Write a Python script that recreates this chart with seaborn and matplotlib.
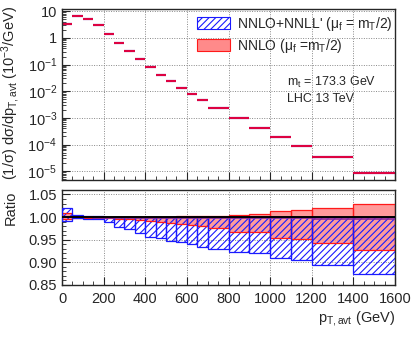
import numpy as np
import matplotlib
matplotlib.use("Agg")
import matplotlib.pyplot as plt
import matplotlib.ticker as mticker
from matplotlib.patches import Patch
import seaborn as sns
import pandas as pd

# ---------------- data ----------------
bin_edges = [0, 50, 100, 150, 200, 250, 300, 350, 400, 450, 500, 550, 600, 650, 700,
             800, 900, 1000, 1100, 1200, 1400, 1600]
xsec = [3.27, 6.5, 5.2, 3.0, 1.42, 0.67, 0.32, 0.155, 0.079, 0.042, 0.024, 0.013,
        0.0077, 0.0047, 0.00237, 9.5e-4, 4.1e-4, 1.94e-4, 8.9e-5, 3.4e-5, 8.9e-6]
nnll_hi = [1.019, 1.005, 1.002, 1.003, 1.001, 1.001, 1.001, 1.000, 1.000, 1.000, 1.000,
           1.000, 1.000, 1.000, 1.000, 1.000, 1.000, 1.000, 1.000, 1.000, 1.000]
nnll_lo = [0.992, 0.997, 0.996, 0.996, 0.989, 0.978, 0.973, 0.964, 0.956, 0.953, 0.948,
           0.944, 0.940, 0.933, 0.930, 0.922, 0.920, 0.909, 0.906, 0.895, 0.874]
nnlo_hi = [1.010, 1.003, 1.001, 1.001, 1.001, 1.001, 1.001, 1.001, 1.001, 1.001, 1.001,
           1.002, 1.002, 1.002, 1.003, 1.005, 1.006, 1.013, 1.015, 1.020, 1.030]
nnlo_lo = [0.995, 0.997, 0.999, 0.998, 0.997, 0.996, 0.995, 0.994, 0.992, 0.990, 0.988,
           0.984, 0.982, 0.980, 0.975, 0.968, 0.966, 0.953, 0.952, 0.943, 0.928]
nnlo_central = [1.000, 1.000, 1.000, 0.999, 0.999, 0.999, 0.998, 0.998, 0.998, 0.998, 0.997,
                0.997, 0.997, 0.997, 0.997, 0.997, 0.997, 0.997, 0.997, 0.996, 0.996]
top_yticks = [1e-5, 1e-4, 1e-3, 1e-2, 1e-1, 1, 10]
top_yticklabels = ['$10^{-5}$', '$10^{-4}$', '$10^{-3}$', '$10^{-2}$', '$10^{-1}$', '1', '10']
ratio_yticks = [0.85, 0.90, 0.95, 1.00, 1.05]
x_ticks = [0, 200, 400, 600, 800, 1000, 1200, 1400, 1600]
label_nnll = "NNLO+NNLL' (μ$_{\\mathrm{f}}$ = m$_{\\mathrm{T}}$/2)"
label_nnlo = "NNLO (μ$_{\\mathrm{f}}$ =m$_{\\mathrm{T}}$/2)"

# ---------------- style ----------------
sns.set_style("ticks")
plt.rcParams['font.family'] = ['Liberation Sans', 'DejaVu Sans']
plt.rcParams['mathtext.fontset'] = 'custom'
plt.rcParams['mathtext.rm'] = 'Liberation Sans'
plt.rcParams['mathtext.it'] = 'Liberation Sans:italic'
plt.rcParams['hatch.linewidth'] = 0.8
FS = 10.5

edges = np.array(bin_edges, dtype=float)
lo_e, hi_e = edges[:-1], edges[1:]
xs = np.array(xsec)
step_x = edges
def stepy(v):
    v = np.asarray(v, dtype=float)
    return np.append(v, v[-1])

BLUE = '#1a1aff'
RED = '#ff1a1a'

fig = plt.figure(figsize=(4.11, 3.38), dpi=100)
ax1 = fig.add_axes([0.151, 0.467, 0.810, 0.506])
ax2 = fig.add_axes([0.151, 0.157, 0.810, 0.281])

# ---------------- top panel ----------------
for ax in (ax1, ax2):
    ax.grid(True, which='major', ls=(0, (1, 1.5)), color='#888888', lw=0.7)
    ax.set_axisbelow(True)

ax1.fill_between(step_x, stepy(xs * np.array(nnll_lo)), stepy(xs * np.array(nnll_hi)),
                 step='post', facecolor='#8080ff', edgecolor='none', alpha=0.7)
ax1.fill_between(step_x, stepy(xs * np.array(nnlo_lo)), stepy(xs * np.array(nnlo_hi)),
                 step='post', facecolor='#ff8080', edgecolor='none', alpha=0.6)
ax1.hlines(xs * np.array(nnlo_central), lo_e, hi_e, color='#7a1a8a', lw=1.6)
ax1.hlines(xs, lo_e, hi_e, color='#e8003a', lw=1.3)
ax1.set_yscale('log')
ax1.set_ylim(4.6e-6, 12)
ax1.set_xlim(0, 1600)

ax1.yaxis.set_major_locator(mticker.FixedLocator(top_yticks))
ax1.yaxis.set_major_formatter(mticker.FixedFormatter(top_yticklabels))
minor = [m * 10.0 ** e for e in range(-6, 2) for m in range(2, 10)]
minor = [v for v in minor if 4.6e-6 <= v <= 12]
ax1.yaxis.set_minor_locator(mticker.FixedLocator(minor))
ax1.yaxis.set_minor_formatter(mticker.NullFormatter())

leg = ax1.legend(handles=[Patch(facecolor='white', edgecolor=BLUE, hatch='/////', lw=0.8, label=label_nnll),
                          Patch(facecolor='#ff8a8a', edgecolor=RED, lw=0.8, label=label_nnlo)],
                 loc='upper left', bbox_to_anchor=(0.389, 1.0), frameon=False, fontsize=10,
                 handlelength=2.35, handleheight=0.95, labelspacing=0.3, handletextpad=0.55,
                 borderaxespad=0.0)
ax1.text(0.677, 0.57, "m$_{\\mathrm{t}}$ = 173.3 GeV", transform=ax1.transAxes, fontsize=9,
         va='center', ha='left')
ax1.text(0.677, 0.475, "LHC 13 TeV", transform=ax1.transAxes, fontsize=9,
         va='center', ha='left')

# ---------------- ratio panel ----------------
ax2.fill_between(step_x, stepy(nnlo_lo), stepy(nnlo_hi), step='post',
                 facecolor='#ff8a8a', edgecolor='none', alpha=0.85, zorder=2)
ax2.fill_between(step_x, stepy(nnll_lo), stepy(nnll_hi), step='post',
                 facecolor='none', edgecolor=BLUE, hatch='/////', lw=0, zorder=3)
for i in range(len(lo_e)):
    ax2.add_patch(plt.Rectangle((lo_e[i], nnlo_lo[i]), hi_e[i] - lo_e[i], nnlo_hi[i] - nnlo_lo[i],
                                fill=False, edgecolor=RED, lw=0.9, zorder=4))
    ax2.add_patch(plt.Rectangle((lo_e[i], nnll_lo[i]), hi_e[i] - lo_e[i], nnll_hi[i] - nnll_lo[i],
                                fill=False, edgecolor=BLUE, lw=0.9, zorder=4))
ax2.hlines(nnlo_central, lo_e, hi_e, color='#8a2a9a', lw=1.2, zorder=5)
ref = pd.DataFrame({'x': [0, 1600], 'y': [1.0, 1.0]})
sns.lineplot(data=ref, x='x', y='y', ax=ax2, color='black', lw=1.4, zorder=6)
ax2.set_xlim(0, 1600)
ax2.set_ylim(0.85, 1.06)
ax2.yaxis.set_major_locator(mticker.FixedLocator(ratio_yticks))
ax2.yaxis.set_major_formatter(mticker.FixedFormatter(['%.2f' % v for v in ratio_yticks]))
ax2.yaxis.set_minor_locator(mticker.FixedLocator([round(0.85 + 0.01 * k, 2) for k in range(22)]))
ax2.set_xlabel('')
ax2.set_ylabel('')

for ax in (ax1, ax2):
    ax.xaxis.set_major_locator(mticker.FixedLocator(x_ticks))
    ax.xaxis.set_minor_locator(mticker.FixedLocator(list(range(0, 1601, 50))))
    ax.tick_params(which='both', direction='in', labelsize=FS, top=False, right=False)
    ax.tick_params(which='major', length=6, width=0.8)
    ax.tick_params(which='minor', length=3, width=0.6)
    for s in ax.spines.values():
        s.set_linewidth(1.0)
ax1.xaxis.set_major_formatter(mticker.NullFormatter())
ax2.xaxis.set_major_formatter(mticker.FixedFormatter([str(v) for v in x_ticks]))
ax2.tick_params(axis='x', pad=5)

fig.text(0.025, 0.725, "(1/σ) dσ/dp$_{\\mathrm{T,avt}}$ (10$^{-3}$/GeV)", rotation=90,
         ha='center', va='center', fontsize=FS)
fig.text(0.025, 0.385, "Ratio", rotation=90, ha='center', va='center', fontsize=FS)
fig.text(0.961, 0.058, "p$_{\\mathrm{T,avt}}$ (GeV)", ha='right', va='center', fontsize=FS)

fig.savefig("out.png", dpi=100)
